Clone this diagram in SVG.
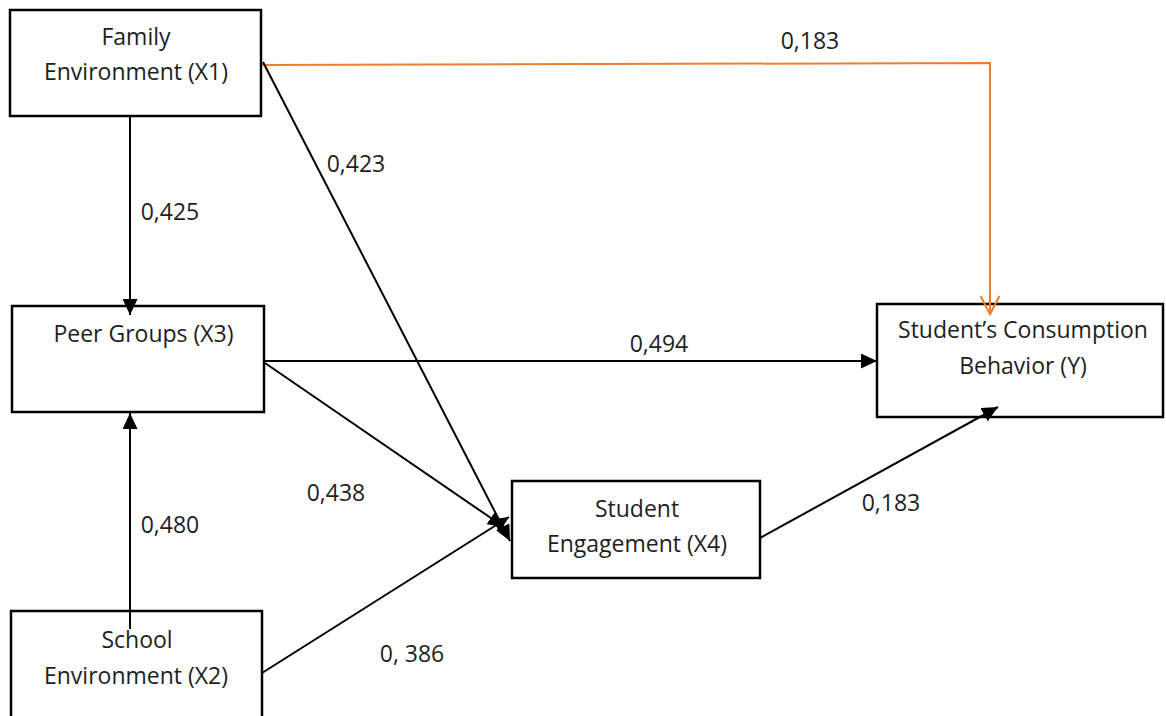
<svg xmlns="http://www.w3.org/2000/svg" width="1166" height="716" viewBox="0 0 1166 716">
<style>
.box{fill:#fff;stroke:#000;stroke-width:2.5}
.t{font-family:"Open Sans","Liberation Sans",sans-serif;font-size:23px;fill:#1e1e1e;text-anchor:middle}
.c{fill:none;stroke:#000;stroke-width:2}
.o{fill:none;stroke:#ED7D31;stroke-width:2}
</style>
<defs>
<marker id="ah" markerUnits="userSpaceOnUse" markerWidth="16" markerHeight="15" viewBox="0 0 16 15" refX="16" refY="7.5" orient="auto">
<path d="M0,0 L16,7.5 L0,15 z" fill="#000"/>
</marker>
<marker id="ao" markerUnits="userSpaceOnUse" markerWidth="24" markerHeight="26" viewBox="-2 -2 24 26" refX="18" refY="9.5" orient="auto">
<path d="M0,0 L18,9.5 L0,19" fill="none" stroke="#ED7D31" stroke-width="2"/>
</marker>
</defs>
<rect width="1166" height="716" fill="#fff"/>
<g id="x1">
<rect class="box" x="10" y="10" width="251" height="106"/>
<text class="t" x="136" y="45">Family</text>
<text class="t" x="136" y="80">Environment (X1)</text>
</g>
<g id="x3">
<rect class="box" x="12" y="306" width="252" height="106"/>
<text class="t" x="143.5" y="342">Peer Groups (X3)</text>
</g>
<g id="x2">
<rect class="box" x="11" y="611" width="251" height="115"/>
<text class="t" x="137" y="648">School</text>
<text class="t" x="136" y="684">Environment (X2)</text>
</g>
<g id="x4">
<rect class="box" x="512" y="481" width="248" height="97"/>
<text class="t" x="637" y="517">Student</text>
<text class="t" x="637" y="552">Engagement (X4)</text>
</g>
<g id="y">
<rect class="box" x="877" y="304" width="286" height="113"/>
<text class="t" x="1023" y="338">Student’s Consumption</text>
<text class="t" x="1023" y="374">Behavior (Y)</text>
</g>
<g id="connectors">
<path class="o" d="M262,65 L990,63 L990,314" marker-end="url(#ao)"/>
<line class="c" x1="130" y1="116" x2="130" y2="315" marker-end="url(#ah)"/>
<line class="c" x1="130" y1="629" x2="130" y2="413" marker-end="url(#ah)"/>
<line class="c" x1="263" y1="62" x2="510" y2="541" marker-end="url(#ah)"/>
<line class="c" x1="265" y1="363" x2="504" y2="527" marker-end="url(#ah)"/>
<line class="c" x1="262" y1="673" x2="509" y2="517" marker-end="url(#ah)"/>
<line class="c" x1="265" y1="361" x2="877" y2="361" marker-end="url(#ah)"/>
<line class="c" x1="760" y1="538" x2="998" y2="407" marker-end="url(#ah)"/>
</g>
<g id="labels">
<text class="t" x="810" y="49">0,183</text>
<text class="t" x="356" y="172">0,423</text>
<text class="t" x="170" y="220">0,425</text>
<text class="t" x="659" y="352">0,494</text>
<text class="t" x="336" y="501">0,438</text>
<text class="t" x="170" y="533">0,480</text>
<text class="t" x="412" y="662">0, 386</text>
<text class="t" x="891" y="511">0,183</text>
</g>
</svg>
